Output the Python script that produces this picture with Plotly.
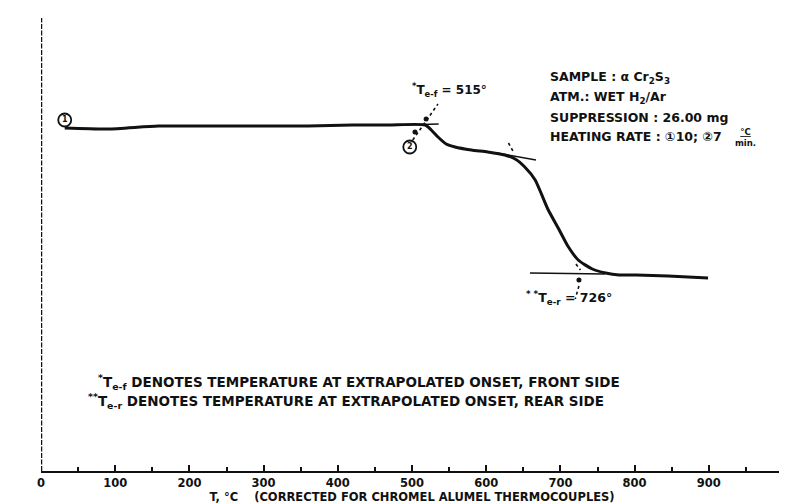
import plotly.graph_objects as go

# ---- data (T in deg C, weight in arbitrary mg units) ----
curve_T = [32, 90, 158, 225, 300, 360, 420, 468, 518, 526, 535, 546, 558, 580, 602,
           625, 639, 652, 666, 683, 697, 710, 724, 743, 761, 779, 802, 845, 899]
curve_w = [34.3, 34.2, 34.5, 34.5, 34.5, 34.5, 34.6, 34.6, 34.6, 34.1, 33.4, 32.7, 32.4, 32.1, 31.9,
           31.6, 31.2, 30.4, 29.1, 26.2, 24.3, 22.5, 21.1, 20.2, 19.8, 19.6, 19.6, 19.5, 19.3]

tan1_T = [488, 536]
tan1_w = [34.6, 34.7]
tan2_T = [614, 667]
tan2_w = [31.8, 31.1]
tan3_T = [659, 760]
tan3_w = [19.8, 19.7]

lead1_T = [501, 535]
lead1_w = [33.1, 36.7]
dot1_T = [519, 504]
dot1_w = [35.2, 33.9]
lead2_T = [725, 720]
lead2_w = [18.5, 17.2]
dot2_T = [725]
dot2_w = [19.1]
tick2_T = [721, 727]
tick2_w = [20.7, 20.1]
tick1_T = [630, 636]
tick1_w = [32.8, 32.0]

circ_T = [32, 497]
circ_w = [35.1, 32.4]
circ_lbl = ["1", "2"]

x_ticks = [0, 100, 200, 300, 400, 500, 600, 700, 800, 900, 1000]
x_ticktext = ["0", "100", "200", "300", "400", "500", "600", "700", "800", "900", "1000"]

onset_front = 515
onset_rear = 726

FONT = "DejaVu Sans"
BLACK = "#111111"

fig = go.Figure()

fig.add_trace(go.Scatter(x=curve_T, y=curve_w, mode="lines",
                         line=dict(color=BLACK, width=3, shape="spline", smoothing=0.6),
                         hoverinfo="skip", showlegend=False))
for tx, ty in [(tan1_T, tan1_w), (tan2_T, tan2_w), (tan3_T, tan3_w)]:
    fig.add_trace(go.Scatter(x=tx, y=ty, mode="lines", line=dict(color=BLACK, width=1.6),
                             hoverinfo="skip", showlegend=False))
for tx, ty in [(lead1_T, lead1_w), (lead2_T, lead2_w), (tick1_T, tick1_w), (tick2_T, tick2_w)]:
    fig.add_trace(go.Scatter(x=tx, y=ty, mode="lines", line=dict(color=BLACK, width=1.6, dash="dot"),
                             hoverinfo="skip", showlegend=False))
fig.add_trace(go.Scatter(x=dot1_T + dot2_T, y=dot1_w + dot2_w, mode="markers",
                         marker=dict(color=BLACK, size=5), hoverinfo="skip", showlegend=False))
fig.add_trace(go.Scatter(x=circ_T, y=circ_w, mode="markers+text", text=circ_lbl,
                         textposition="middle center",
                         textfont=dict(family=FONT, size=8, color=BLACK, weight="bold"),
                         marker=dict(symbol="circle-open", size=13, color=BLACK, line=dict(width=1.8)),
                         hoverinfo="skip", showlegend=False))

# dashed y axis line
fig.add_shape(type="line", xref="x", yref="paper", x0=0, x1=0, y0=0, y1=1,
              line=dict(color=BLACK, width=2.5, dash="5px,1.5px"))


def ann(x, y, text, xanchor="left", size=12.5, angle=0):
    fig.add_annotation(x=x, y=y, xref="x", yref="y", text=text, showarrow=False,
                       xanchor=xanchor, yanchor="middle", textangle=angle,
                       font=dict(family=FONT, size=size, color=BLACK, weight="bold"))


ann(683, 39.4, "SAMPLE : α Cr<sub>2</sub>S<sub>3</sub>")
ann(683, 37.4, "ATM.: WET H<sub>2</sub>/Ar")
ann(683, 35.4, "SUPPRESSION : 26.00 mg")
ann(683, 33.5, "HEATING RATE : ①10; ②7")
ann(950, 33.4, "<u>°C</u><br>min.", xanchor="center", size=8.5)

ann(551, 38.1, f"<sup>*</sup>T<sub>e-f</sub> = {onset_front}°", xanchor="center", size=12)
ann(712, 17.3, f"<sup>* *</sup>T<sub>e-r</sub> = {onset_rear}°", xanchor="center", size=12.5)

ann(74, 8.9, "<sup>*</sup>T<sub>e-f</sub> DENOTES TEMPERATURE AT EXTRAPOLATED ONSET, FRONT SIDE", size=13.5)
ann(61, 7.0, "<sup>**</sup>T<sub>e-r</sub> DENOTES TEMPERATURE AT EXTRAPOLATED ONSET, REAR SIDE", size=13.5)

ann(-18, 17.9, "WEIGHT, mg.", xanchor="center", size=12, angle=-90)

fig.update_layout(
    width=787, height=504,
    margin=dict(l=33, r=12, t=10, b=41),
    paper_bgcolor="white", plot_bgcolor="white",
    font=dict(family=FONT, color=BLACK),
    xaxis=dict(range=[0, 1000], tickvals=x_ticks, ticktext=x_ticktext,
               showgrid=False, zeroline=False, showline=True, linecolor=BLACK, linewidth=2,
               ticks="inside", ticklen=6, tickwidth=2, tickcolor=BLACK,
               minor=dict(dtick=50, ticks="inside", ticklen=4, tickwidth=1.5, tickcolor=BLACK),
               tickfont=dict(family=FONT, size=11.5, color=BLACK, weight="bold"),
               title=dict(text="T, °C    (CORRECTED FOR CHROMEL ALUMEL THERMOCOUPLES)",
                          font=dict(family=FONT, size=11.5, color=BLACK, weight="bold"), standoff=3)),
    yaxis=dict(range=[0, 45.3], showticklabels=False, showgrid=False, zeroline=False,
               showline=False, ticks=""),
)

fig.write_html("out.html")
